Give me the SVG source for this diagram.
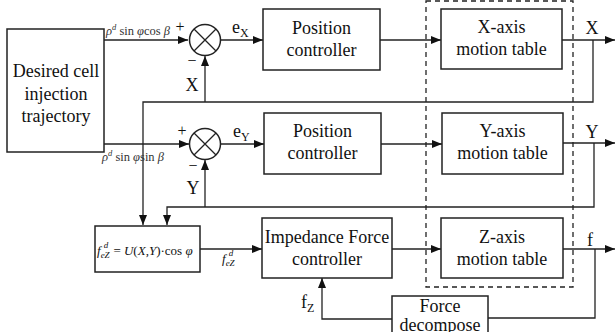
<svg xmlns="http://www.w3.org/2000/svg" width="615" height="332" viewBox="0 0 615 332">
<style>
.box{fill:#fff;stroke:#222;stroke-width:1.5}
.ln{fill:none;stroke:#222;stroke-width:1.3}
.t{font-family:"Liberation Serif","Times New Roman",serif;font-size:18px;fill:#111;text-anchor:middle}
.m{font-family:"Liberation Serif","Times New Roman",serif;font-size:12.5px;fill:#333}
.s{font-family:"Liberation Serif","Times New Roman",serif;fill:#111}
.dash{fill:none;stroke:#222;stroke-width:1.3;stroke-dasharray:5,4}
</style>
<defs>
<marker id="ar" markerWidth="10" markerHeight="8" refX="10" refY="4" orient="auto" markerUnits="userSpaceOnUse">
<path d="M0,0 L10,4 L0,8 Z" fill="#111"/>
</marker>
</defs>
<rect class="dash" x="426" y="1" width="147" height="286"/>
<g id="connectors">
<path class="ln" d="M104,40 H188" marker-end="url(#ar)"/>
<path class="ln" d="M220,40 H263" marker-end="url(#ar)"/>
<path class="ln" d="M380,40 H441" marker-end="url(#ar)"/>
<path class="ln" d="M562,40 H615" marker-end="url(#ar)"/>
<path class="ln" d="M593,40 V102 H143 V225" marker-end="url(#ar)"/>
<path class="ln" d="M205,102 V56" marker-end="url(#ar)"/>
<path class="ln" d="M104,144 H189" marker-end="url(#ar)"/>
<path class="ln" d="M221,144 H264" marker-end="url(#ar)"/>
<path class="ln" d="M381,144 H442" marker-end="url(#ar)"/>
<path class="ln" d="M563,143 H615" marker-end="url(#ar)"/>
<path class="ln" d="M594,143 V207 H167 V225" marker-end="url(#ar)"/>
<path class="ln" d="M205,207 V160" marker-end="url(#ar)"/>
<path class="ln" d="M200,249 H262" marker-end="url(#ar)"/>
<path class="ln" d="M392,249 H441" marker-end="url(#ar)"/>
<path class="ln" d="M563,249 H615" marker-end="url(#ar)"/>
<path class="ln" d="M595,249 V318 H488"/>
<path class="ln" d="M392,319 H322 V278" marker-end="url(#ar)"/>
</g>
<g id="desired">
<rect class="box" x="7" y="29" width="97" height="123"/>
<text class="t" x="56" y="77">Desired cell</text>
<text class="t" x="56" y="100">injection</text>
<text class="t" x="56" y="122">trajectory</text>
</g>
<g id="sum1">
<circle cx="205" cy="40" r="15.5" fill="#fff" stroke="#222" stroke-width="1.5"/>
<path class="ln" d="M194,29 L216,51 M216,29 L194,51"/>
</g>
<g id="sum2">
<circle cx="205" cy="144" r="15.5" fill="#fff" stroke="#222" stroke-width="1.5"/>
<path class="ln" d="M194,133 L216,155 M216,133 L194,155"/>
</g>
<g id="pos1">
<rect class="box" x="263" y="9" width="117" height="61"/>
<text class="t" x="321.5" y="34">Position</text>
<text class="t" x="321.5" y="56">controller</text>
</g>
<g id="pos2">
<rect class="box" x="264" y="113" width="117" height="61"/>
<text class="t" x="322.5" y="137">Position</text>
<text class="t" x="322.5" y="159">controller</text>
</g>
<g id="xtable">
<rect class="box" x="441" y="9" width="121" height="60"/>
<text class="t" x="501.5" y="33">X-axis</text>
<text class="t" x="501.5" y="55">motion table</text>
</g>
<g id="ytable">
<rect class="box" x="442" y="113" width="121" height="61"/>
<text class="t" x="502.5" y="137">Y-axis</text>
<text class="t" x="502.5" y="159">motion table</text>
</g>
<g id="ztable">
<rect class="box" x="441" y="218" width="122" height="60"/>
<text class="t" x="502" y="243">Z-axis</text>
<text class="t" x="502" y="265">motion table</text>
</g>
<g id="impedance">
<rect class="box" x="262" y="218" width="130" height="60"/>
<text class="t" x="327" y="243">Impedance Force</text>
<text class="t" x="327" y="265">controller</text>
</g>
<g id="forcedec">
<rect class="box" x="392" y="296" width="96" height="44"/>
<text class="t" x="440" y="312" font-size="17">Force</text>
<text class="t" x="440" y="331" font-size="17">decompose</text>
</g>
<g id="formula">
<rect class="box" x="95" y="226" width="105" height="46"/>
<text class="s" x="97" y="255" font-size="13"><tspan font-style="italic">f</tspan><tspan font-size="9" font-style="italic" dy="3">eZ</tspan><tspan font-size="9" font-style="italic" dx="-6" dy="-10">d</tspan><tspan dx="2" dy="7"> = </tspan><tspan font-style="italic">U</tspan>(<tspan font-style="italic">X</tspan>,<tspan font-style="italic">Y</tspan>)·cos <tspan font-style="italic">φ</tspan></text>
</g>
<g id="labels">
<text class="m" x="106" y="35"><tspan font-style="italic">ρ</tspan><tspan font-size="8.5" font-style="italic" dy="-5">d</tspan><tspan dy="5"> sin </tspan><tspan font-style="italic">φ</tspan>cos <tspan font-style="italic">β</tspan></text>
<text class="m" x="102" y="161"><tspan font-style="italic">ρ</tspan><tspan font-size="8.5" font-style="italic" dy="-5">d</tspan><tspan dy="5"> sin </tspan><tspan font-style="italic">φ</tspan>sin <tspan font-style="italic">β</tspan></text>
<text class="s" x="222" y="263" font-size="13"><tspan font-style="italic">f</tspan><tspan font-size="9" font-style="italic" dy="3">eZ</tspan><tspan font-size="9" font-style="italic" dx="-6" dy="-10">d</tspan></text>
<text class="s" x="180" y="32" font-size="16" fill="#6a2a5a" text-anchor="middle">+</text>
<text class="s" x="192" y="66" font-size="16" text-anchor="middle">−</text>
<text class="s" x="182" y="136" font-size="16" fill="#444" text-anchor="middle">+</text>
<text class="s" x="193" y="171" font-size="16" text-anchor="middle">−</text>
<text class="t" x="192" y="91">X</text>
<text class="t" x="193" y="194">Y</text>
<text class="s" x="232" y="33" font-size="18">e<tspan font-size="12" dy="4">X</tspan></text>
<text class="s" x="233" y="137" font-size="18">e<tspan font-size="12" dy="4">Y</tspan></text>
<text class="s" x="301" y="308" font-size="18">f<tspan font-size="12" dy="4">Z</tspan></text>
<text class="t" x="592" y="34">X</text>
<text class="t" x="592" y="138">Y</text>
<text class="t" x="590" y="246">f</text>
</g>
</svg>
